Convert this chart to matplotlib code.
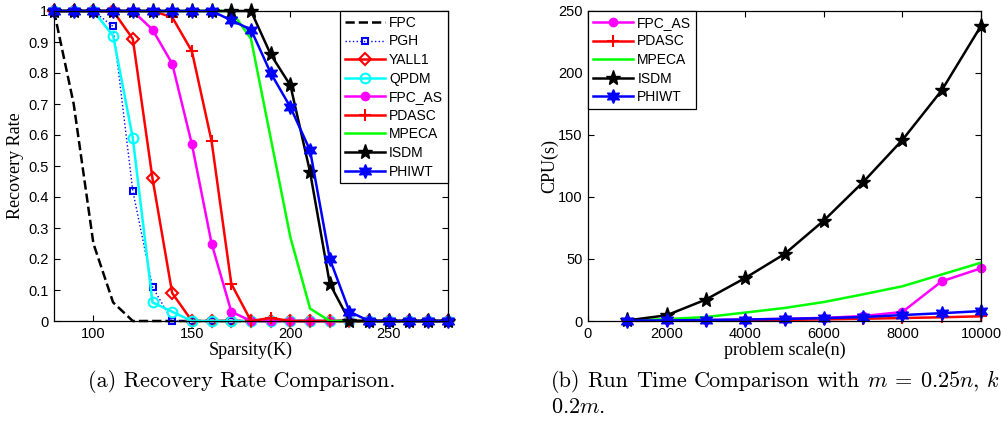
import numpy as np
import matplotlib
matplotlib.use("Agg")
import matplotlib.pyplot as plt

# ---------------- data: (a) recovery rate ----------------
sparsity = [80, 90, 100, 110, 120, 130, 140, 150, 160, 170, 180, 190, 200,
            210, 220, 230, 240, 250, 260, 270, 280]
fpc    = [1.0, 0.70, 0.25, 0.06, 0.0] + [0.0] * 16
pgh    = [1.0, 1.0, 1.0, 0.95, 0.42, 0.11, 0.0] + [0.0] * 14
yall1  = [1.0, 1.0, 1.0, 1.0, 0.91, 0.46, 0.09, 0.0] + [0.0] * 13
qpdm   = [1.0, 1.0, 1.0, 0.92, 0.59, 0.06, 0.03, 0.0] + [0.0] * 13
fpc_as = [1.0, 1.0, 1.0, 1.0, 1.0, 0.94, 0.83, 0.57, 0.25, 0.03, 0.0] + [0.0] * 10
pdasc  = [1.0, 1.0, 1.0, 1.0, 1.0, 1.0, 0.98, 0.87, 0.58, 0.12, 0.0, 0.01, 0.0] + [0.0] * 8
mpeca  = [1.0] * 10 + [0.91, 0.59, 0.27, 0.04, 0.0] + [0.0] * 6
isdm   = [1.0] * 11 + [0.86, 0.76, 0.48, 0.12, 0.0] + [0.0] * 5
phiwt  = [1.0] * 9 + [0.97, 0.94, 0.80, 0.69, 0.55, 0.20, 0.03] + [0.0] * 5

# ---------------- data: (b) run time ----------------
scale   = [1000, 2000, 3000, 4000, 5000, 6000, 7000, 8000, 9000, 10000]
t_fpcas = [0.3, 0.5, 0.8, 1.2, 1.8, 2.5, 4.0, 7.3, 32.0, 42.5]
t_pdasc = [0.1, 0.2, 0.4, 0.6, 0.9, 1.3, 1.8, 2.4, 3.0, 3.8]
t_mpeca = [0.3, 1.5, 3.2, 6.8, 10.5, 15.3, 21.5, 28.0, 37.5, 47.0]
t_isdm  = [0.5, 4.6, 17.3, 34.7, 54.0, 81.0, 112.0, 146.0, 186.0, 238.0]
t_phiwt = [0.3, 0.5, 0.8, 1.2, 1.7, 2.3, 3.2, 4.8, 6.3, 8.0]

xticks_a = [100, 150, 200, 250]
yticks_a = [0, 0.1, 0.2, 0.3, 0.4, 0.5, 0.6, 0.7, 0.8, 0.9, 1]
ylabels_a = ['0', '0.1', '0.2', '0.3', '0.4', '0.5', '0.6', '0.7', '0.8', '0.9', '1']
xticks_b = [0, 2000, 4000, 6000, 8000, 10000]
yticks_b = [0, 50, 100, 150, 200, 250]

caption_a = '(a) Recovery Rate Comparison.'
caption_b_words = ['(b)', 'Run', 'Time', 'Comparison', 'with', r'$m$', '=', r'0.25$n,\,k$']
caption_b_line2 = r'0.2$m$.'

plt.rcParams['mathtext.fontset'] = 'cm'
TICKFONT = 'Liberation Sans'
LABELFONT = 'Liberation Serif'

fig = plt.figure(figsize=(10.01, 4.23), dpi=100)
W, H = 1001, 423

def ax_rect(l, r, t, b):
    return [l / W, 1 - b / H, (r - l) / W, (b - t) / H]

ax1 = fig.add_axes(ax_rect(54, 448, 11, 321))
ax2 = fig.add_axes(ax_rect(588, 981, 11, 321))

hexagram = (6, 1, 0)
lw = 1.8

def style(ax):
    ax.tick_params(direction='in', top=True, right=True, length=4, width=0.8,
                   labelsize=10.5, pad=4)
    for lab in ax.get_xticklabels() + ax.get_yticklabels():
        lab.set_fontfamily(TICKFONT)
    for s in ax.spines.values():
        s.set_linewidth(0.9)

legkw = dict(borderaxespad=0, fancybox=False, edgecolor='black', framealpha=1,
             prop={'family': TICKFONT, 'size': 10}, handlelength=2.9,
             handletextpad=0.3, labelspacing=0.33, borderpad=0.35)

# ---- (a)
ax1.plot(sparsity, fpc, '--', color='black', lw=lw, label='FPC', clip_on=False)
ax1.plot(sparsity, pgh, ':', color='blue', lw=1.0, marker='s', ms=5,
         mfc='none', mec='blue', mew=1.5, label='PGH', clip_on=False)
ax1.plot(sparsity, yall1, '-', color='red', lw=lw, marker='D', ms=6,
         mfc='none', mec='red', mew=1.5, label='YALL1', clip_on=False)
ax1.plot(sparsity, qpdm, '-', color='cyan', lw=lw, marker='o', ms=7,
         mfc='none', mec='cyan', mew=1.5, label='QPDM', clip_on=False)
ax1.plot(sparsity, fpc_as, '-', color='magenta', lw=lw, marker='o', ms=6,
         mfc='magenta', mec='magenta', label='FPC_AS', clip_on=False)
ax1.plot(sparsity, pdasc, '-', color='red', lw=lw, marker='+', ms=8,
         mew=1.5, label='PDASC', clip_on=False)
ax1.plot(sparsity, mpeca, '-', color='#00ff00', lw=lw, label='MPECA', clip_on=False)
ax1.plot(sparsity, isdm, '-', color='black', lw=lw, marker='*', ms=11,
         label='ISDM', clip_on=False)
ax1.plot(sparsity, phiwt, '-', color='blue', lw=lw, marker=hexagram, ms=10,
         label='PHIWT', clip_on=False)
ax1.set_xlim(80, 280)
ax1.set_ylim(0, 1)
ax1.set_xticks(xticks_a)
ax1.set_yticks(yticks_a)
ax1.set_yticklabels(ylabels_a)
style(ax1)
ax1.set_xlabel('Sparsity(K)', fontfamily=LABELFONT, fontsize=13, labelpad=1)
ax1.set_ylabel('Recovery Rate', fontfamily=LABELFONT, fontsize=13, labelpad=3)
leg1 = ax1.legend(loc='upper right', **legkw)
leg1.get_frame().set_linewidth(0.9)

# ---- (b)
ax2.plot(scale, t_fpcas, '-', color='magenta', lw=lw, marker='o', ms=6,
         mfc='magenta', label='FPC_AS', clip_on=False)
ax2.plot(scale, t_pdasc, '-', color='red', lw=lw, marker='+', ms=8, mew=1.5,
         label='PDASC', clip_on=False)
ax2.plot(scale, t_mpeca, '-', color='#00ff00', lw=lw, label='MPECA', clip_on=False)
ax2.plot(scale, t_isdm, '-', color='black', lw=lw, marker='*', ms=11,
         label='ISDM', clip_on=False)
ax2.plot(scale, t_phiwt, '-', color='blue', lw=lw, marker=hexagram, ms=10,
         label='PHIWT', clip_on=False)
ax2.set_xlim(0, 10000)
ax2.set_ylim(0, 250)
ax2.set_xticks(xticks_b)
ax2.set_yticks(yticks_b)
style(ax2)
ax2.set_xlabel('problem scale(n)', fontfamily=LABELFONT, fontsize=13, labelpad=1)
ax2.set_ylabel('CPU(s)', fontfamily=LABELFONT, fontsize=13, labelpad=0)
leg2 = ax2.legend(loc='upper left', **legkw)
leg2.get_frame().set_linewidth(0.9)

# ---- captions
cap = dict(fontfamily='cmr10', fontsize=16, va='center')
fig.text(88 / W, 1 - 381 / H, caption_a, ha='left', **cap)
fig.text(551 / W, 1 - 407 / H, caption_b_line2, ha='left', **cap)

# justified first line of caption (b)
renderer = fig.canvas.get_renderer()
widths = []
for w in caption_b_words:
    t = fig.text(0, 0, w, **cap)
    widths.append(t.get_window_extent(renderer).width)
    t.remove()
x_start, x_end = 551.0, 999.0
gap = (x_end - x_start - sum(widths)) / (len(caption_b_words) - 1)
x = x_start
for w, wd in zip(caption_b_words, widths):
    fig.text(x / W, 1 - 381 / H, w, ha='left', **cap)
    x += wd + gap

fig.savefig('out.png', dpi=100)
